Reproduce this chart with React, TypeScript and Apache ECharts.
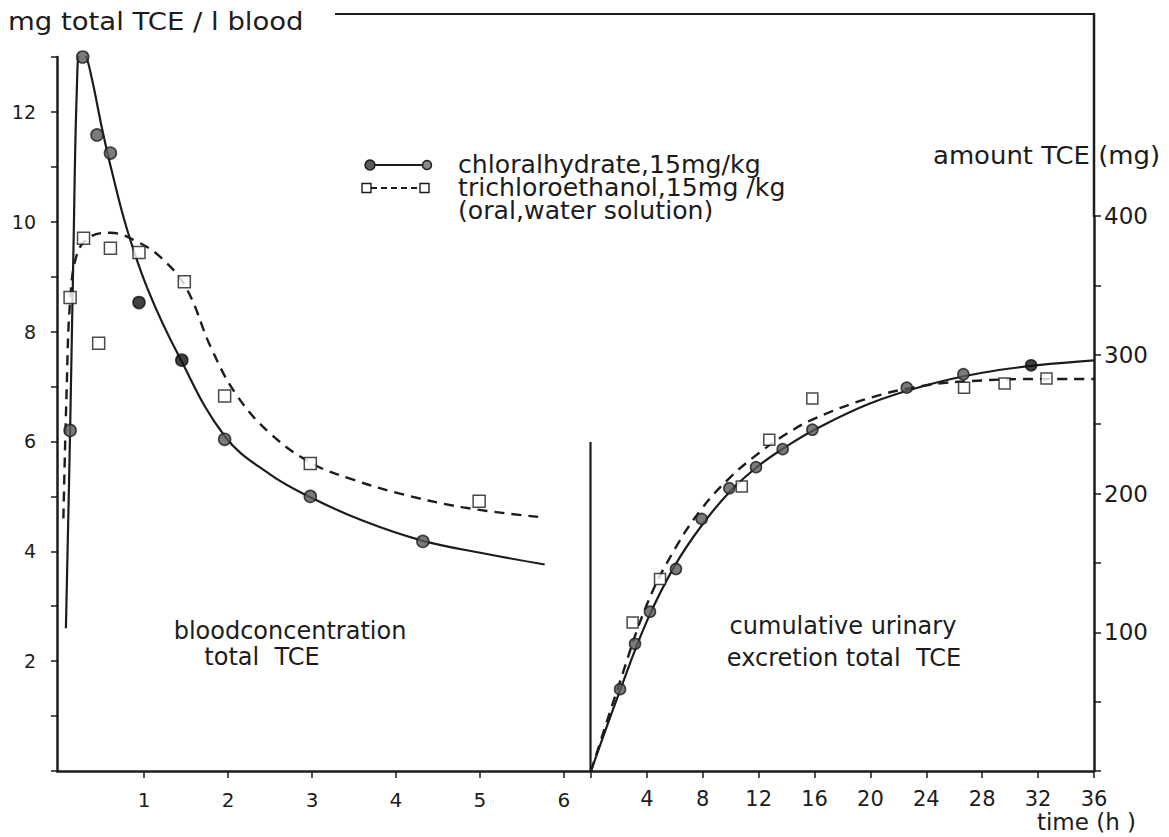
import React, { useEffect, useRef } from 'react';
import * as echarts from 'echarts';

// ---- data ----
// left panel: blood concentration (mg total TCE / l blood) vs time (h)
const bloodChloralPts: number[][] = [[0.12, 6.2], [0.27, 13.0], [0.44, 11.58], [0.6, 11.25], [0.94, 8.53], [1.45, 7.48], [1.96, 6.04], [2.98, 5.0], [4.32, 4.18]];
const bloodChloralBlackIdx = [4, 5];
const bloodTcePts: number[][] = [[0.12, 8.62], [0.28, 9.7], [0.46, 7.79], [0.6, 9.52], [0.94, 9.44], [1.48, 8.91], [1.96, 6.83], [2.98, 5.6], [4.99, 4.91]];
const bloodChloralCurve: number[][] = [[0.07, 2.6], [0.12, 6.2], [0.16, 9.5], [0.2, 12.4], [0.24, 13.1], [0.3, 13.05], [0.38, 12.6], [0.5, 11.7], [0.62, 10.9], [0.8, 9.85], [1.05, 8.75], [1.4, 7.6], [1.96, 6.1], [2.5, 5.4], [3.0, 4.97], [3.6, 4.56], [4.3, 4.2], [5.05, 3.96], [5.77, 3.76]];
const bloodTceCurve: number[][] = [[0.04, 4.6], [0.08, 7.0], [0.12, 8.55], [0.2, 9.4], [0.35, 9.72], [0.6, 9.8], [0.9, 9.65], [1.2, 9.35], [1.5, 8.8], [1.8, 7.7], [2.1, 6.85], [2.5, 6.15], [3.0, 5.6], [3.5, 5.3], [4.0, 5.07], [4.8, 4.8], [5.74, 4.62]];

// right panel: cumulative urinary excretion (mg) vs time (h)
const urineChloralPts: number[][] = [[2.08, 59], [3.15, 91.7], [4.22, 114.8], [6.08, 145.6], [7.92, 181.7], [9.9, 203.8], [11.81, 219], [13.72, 232], [15.84, 246], [22.6, 276.3], [26.65, 286], [31.5, 292.4]];
const urineChloralBlackIdx = [11];
const urineTcePts: number[][] = [[2.98, 107], [4.94, 138.4], [10.79, 205], [12.76, 238.8], [15.84, 268.4], [26.7, 276.3], [29.6, 279.2], [32.6, 282.8]];
const urineChloralCurve: number[][] = [[0, 0], [2, 56], [4, 108], [6, 148], [8, 178], [10, 202], [12, 220], [14, 234], [16, 246], [20, 265], [24, 278], [28, 287], [32, 292.5], [36, 296]];
const urineTceCurve: number[][] = [[0, 0], [2, 62], [4, 120], [6, 160], [8, 190], [10, 212], [12, 229], [14, 243], [16, 254], [20, 269], [24, 278], [28, 281.5], [32, 282.5], [36, 282.5]];

const leftXTicks = [1, 2, 3, 4, 5, 6];
const legendLines = ['chloralhydrate,15mg/kg', 'trichloroethanol,15mg /kg', '(oral,water solution)'];

const INK = '#1c1c1c';
const FONT = '"DejaVu Sans", sans-serif';

export default function App() {
  const ref = useRef<HTMLDivElement>(null);
  useEffect(() => {
    if (!ref.current) return;
    const chart = echarts.init(ref.current, undefined, { renderer: 'svg' });

    const circleStyle = { color: '#5a5a5a', borderColor: INK, borderWidth: 1.6 };
    const blackStyle = { color: '#111', borderColor: '#111', borderWidth: 1.6 };
    const squareStyle = { color: '#fff', borderColor: INK, borderWidth: 1.5 };

    const mkCircles = (pts: number[][], black: number[]) =>
      pts.map((p, i) => ({ value: p, itemStyle: black.includes(i) ? blackStyle : circleStyle }));

    const lbl = (size: number) => ({ color: INK, fontFamily: FONT, fontSize: size });

    const option: any = {
      animation: false,
      backgroundColor: '#fff',
      grid: [
        { left: 57, top: 57, width: 533, height: 714 },
        { left: 591, top: 216, width: 503, height: 555 },
      ],
      xAxis: [
        {
          gridIndex: 0, type: 'value', min: -0.036, max: 6.31,
          axisLine: { show: true, onZero: false, lineStyle: { color: INK, width: 2.5 } },
          axisTick: { show: true, customValues: leftXTicks, length: 7, lineStyle: { color: INK, width: 1.5 } },
          axisLabel: { customValues: leftXTicks, margin: 19, ...lbl(20) },
          splitLine: { show: false },
        },
        {
          gridIndex: 1, type: 'value', min: 0, max: 36, interval: 4,
          axisLine: { show: true, onZero: false, lineStyle: { color: INK, width: 2.5 } },
          axisTick: { show: true, length: 7, lineStyle: { color: INK, width: 1.5 } },
          axisLabel: { margin: 17, formatter: (v: number) => (v === 0 ? '' : String(v)), ...lbl(21) },
          splitLine: { show: false },
        },
      ],
      yAxis: [
        {
          gridIndex: 0, type: 'value', min: 0, max: 13, interval: 1,
          axisLine: { show: true, onZero: false, lineStyle: { color: INK, width: 2.5 } },
          axisTick: { show: true, length: 6, lineStyle: { color: INK, width: 1.5 } },
          axisLabel: { margin: 21, formatter: (v: number) => (v > 0 && v % 2 === 0 ? String(v) : ''), ...lbl(19) },
          splitLine: { show: false },
        },
        {
          gridIndex: 1, type: 'value', position: 'right', min: 0, max: 400, interval: 50,
          axisLine: { show: true, onZero: false, lineStyle: { color: INK, width: 2.5 } },
          axisTick: { show: true, length: 7, lineStyle: { color: INK, width: 1.5 } },
          axisLabel: { margin: 10, formatter: (v: number) => (v > 0 && v % 100 === 0 ? String(v) : ''), ...lbl(23) },
          splitLine: { show: false },
        },
      ],
      series: [
        {
          type: 'line', xAxisIndex: 0, yAxisIndex: 0, data: bloodChloralCurve, smooth: 0.4,
          showSymbol: false, lineStyle: { color: INK, width: 2.2 }, z: 2,
        },
        {
          type: 'line', xAxisIndex: 0, yAxisIndex: 0, data: bloodTceCurve, smooth: 0.4,
          showSymbol: false, lineStyle: { color: INK, width: 2.4, type: [10, 7] }, z: 2,
        },
        {
          type: 'line', xAxisIndex: 1, yAxisIndex: 1, data: urineChloralCurve, smooth: 0.4,
          showSymbol: false, lineStyle: { color: INK, width: 2.2 }, z: 2,
        },
        {
          type: 'line', xAxisIndex: 1, yAxisIndex: 1, data: urineTceCurve, smooth: 0.4,
          showSymbol: false, lineStyle: { color: INK, width: 2.4, type: [10, 7] }, z: 2,
        },
        { type: 'scatter', xAxisIndex: 0, yAxisIndex: 0, data: mkCircles(bloodChloralPts, bloodChloralBlackIdx), symbol: 'circle', symbolSize: 12, z: 5 },
        { type: 'scatter', xAxisIndex: 0, yAxisIndex: 0, data: bloodTcePts, symbol: 'rect', symbolSize: 12, itemStyle: squareStyle, z: 5 },
        { type: 'scatter', xAxisIndex: 1, yAxisIndex: 1, data: mkCircles(urineChloralPts, urineChloralBlackIdx), symbol: 'circle', symbolSize: 11, z: 5 },
        { type: 'scatter', xAxisIndex: 1, yAxisIndex: 1, data: urineTcePts, symbol: 'rect', symbolSize: 11, itemStyle: squareStyle, z: 5 },
      ],
      graphic: [
        // frame pieces
        { type: 'line', shape: { x1: 335, y1: 14, x2: 1095, y2: 14 }, style: { stroke: INK, lineWidth: 2 } },
        { type: 'line', shape: { x1: 1094, y1: 13, x2: 1094, y2: 217 }, style: { stroke: INK, lineWidth: 2.5 } },
        { type: 'line', shape: { x1: 590.5, y1: 442, x2: 590.5, y2: 771 }, style: { stroke: INK, lineWidth: 2.2 } },
        // titles
        { type: 'text', x: 8, y: 21, scaleX: 1.1, style: { text: 'mg total TCE / l blood', font: `25px ${FONT}`, fill: INK, verticalAlign: 'middle' } },
        { type: 'text', x: 933, y: 156, scaleX: 1.08, style: { text: 'amount TCE (mg)', font: `24px ${FONT}`, fill: INK, verticalAlign: 'middle' } },
        { type: 'text', x: 1136, y: 822, style: { text: 'time (h )', font: `23px ${FONT}`, fill: INK, align: 'right', verticalAlign: 'middle' } },
        // panel captions
        { type: 'text', x: 290, y: 631, style: { text: 'bloodconcentration', font: `24px ${FONT}`, fill: INK, align: 'center', verticalAlign: 'middle' } },
        { type: 'text', x: 262, y: 657, style: { text: 'total  TCE', font: `24px ${FONT}`, fill: INK, align: 'center', verticalAlign: 'middle' } },
        { type: 'text', x: 843, y: 626, style: { text: 'cumulative urinary', font: `24px ${FONT}`, fill: INK, align: 'center', verticalAlign: 'middle' } },
        { type: 'text', x: 844, y: 658, style: { text: 'excretion total  TCE', font: `24px ${FONT}`, fill: INK, align: 'center', verticalAlign: 'middle' } },
        // legend
        { type: 'line', shape: { x1: 372, y1: 165, x2: 424, y2: 165 }, style: { stroke: INK, lineWidth: 2 } },
        { type: 'circle', shape: { cx: 370, cy: 165, r: 5 }, style: { fill: '#5a5a5a', stroke: INK, lineWidth: 1.5 } },
        { type: 'circle', shape: { cx: 427, cy: 165, r: 4.5 }, style: { fill: '#8a8a8a', stroke: INK, lineWidth: 1.5 } },
        { type: 'line', shape: { x1: 371, y1: 188, x2: 420, y2: 188 }, style: { stroke: INK, lineWidth: 1.8, lineDash: [6, 4] } },
        { type: 'rect', shape: { x: 362, y: 183.5, width: 9, height: 9 }, style: { fill: '#fff', stroke: INK, lineWidth: 1.4 } },
        { type: 'rect', shape: { x: 420, y: 183.5, width: 9, height: 9 }, style: { fill: '#fff', stroke: INK, lineWidth: 1.4 } },
        {
          type: 'text', x: 458, y: 153.5, scaleX: 1.05,
          style: { text: legendLines.join('\n'), font: `24px ${FONT}`, lineHeight: 23, fill: INK, verticalAlign: 'top' },
        },
      ],
    };
    chart.setOption(option);
    return () => chart.dispose();
  }, []);
  return <div ref={ref} style={{ position: 'fixed', left: 0, top: 0, width: 1169, height: 837, background: '#fff' }} />;
}
